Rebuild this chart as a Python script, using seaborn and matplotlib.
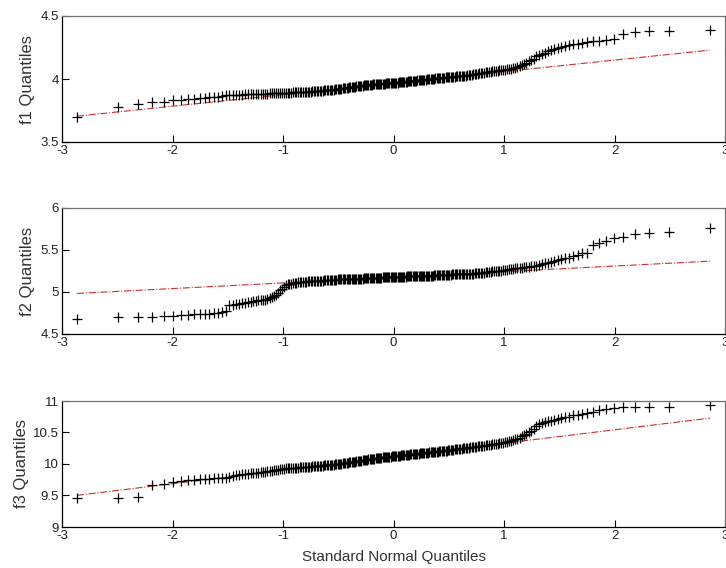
import matplotlib
matplotlib.use('Agg')
import numpy as np
import pandas as pd
import matplotlib.pyplot as plt
import seaborn as sns
from statistics import NormalDist

# sorted sample values (240 per variable)
f1 = [3.70, 3.78, 3.80, 3.82, 3.82, 3.83, 3.835, 3.84, 3.845, 3.85,
      3.85, 3.855, 3.86, 3.86, 3.865, 3.87, 3.87, 3.872, 3.874, 3.875,
      3.876, 3.877, 3.878, 3.879, 3.88, 3.88, 3.881, 3.882, 3.883, 3.883,
      3.884, 3.885, 3.885, 3.886, 3.886, 3.887, 3.888, 3.889, 3.89, 3.89,
      3.891, 3.892, 3.892, 3.893, 3.894, 3.895, 3.895, 3.896, 3.897, 3.898,
      3.898, 3.899, 3.90, 3.90, 3.90, 3.901, 3.902, 3.903, 3.904, 3.905,
      3.906, 3.907, 3.908, 3.909, 3.91, 3.911, 3.912, 3.913, 3.914, 3.915,
      3.916, 3.917, 3.918, 3.92, 3.921, 3.922, 3.924, 3.925, 3.927, 3.928,
      3.93, 3.931, 3.933, 3.934, 3.936, 3.937, 3.939, 3.94, 3.942, 3.943,
      3.945, 3.946, 3.947, 3.948, 3.949, 3.95, 3.951, 3.952, 3.953, 3.954,
      3.955, 3.956, 3.957, 3.958, 3.959, 3.96, 3.961, 3.961, 3.962, 3.963,
      3.963, 3.964, 3.964, 3.965, 3.965, 3.966, 3.966, 3.967, 3.967, 3.968,
      3.969, 3.97, 3.971, 3.972, 3.973, 3.974, 3.975, 3.976, 3.977, 3.978,
      3.979, 3.98, 3.981, 3.982, 3.983, 3.984, 3.985, 3.986, 3.987, 3.988,
      3.989, 3.99, 3.991, 3.992, 3.993, 3.994, 3.995, 3.996, 3.997, 3.998,
      3.999, 4.00, 4.001, 4.002, 4.003, 4.004, 4.005, 4.006, 4.007, 4.008,
      4.009, 4.01, 4.011, 4.012, 4.013, 4.014, 4.015, 4.016, 4.017, 4.018,
      4.019, 4.02, 4.021, 4.022, 4.023, 4.024, 4.025, 4.026, 4.027, 4.028,
      4.03, 4.032, 4.034, 4.036, 4.038, 4.04, 4.042, 4.044, 4.046, 4.048,
      4.05, 4.052, 4.054, 4.056, 4.058, 4.06, 4.062, 4.064, 4.066, 4.068,
      4.07, 4.072, 4.075, 4.078, 4.08, 4.083, 4.087, 4.09, 4.095, 4.10,
      4.11, 4.12, 4.13, 4.14, 4.15, 4.16, 4.18, 4.19, 4.20, 4.21,
      4.22, 4.23, 4.24, 4.25, 4.255, 4.26, 4.27, 4.275, 4.28, 4.285,
      4.29, 4.30, 4.305, 4.31, 4.32, 4.36, 4.37, 4.38, 4.38, 4.39]

f2 = [4.68, 4.70, 4.70, 4.70, 4.71, 4.72, 4.73, 4.73, 4.74, 4.74,
      4.74, 4.74, 4.75, 4.75, 4.76, 4.77, 4.84, 4.85, 4.86, 4.86,
      4.87, 4.87, 4.88, 4.88, 4.89, 4.89, 4.90, 4.90, 4.91, 4.91,
      4.92, 4.93, 4.94, 4.95, 4.97, 4.99, 5.02, 5.04, 5.06, 5.08,
      5.09, 5.10, 5.10, 5.11, 5.11, 5.11, 5.12, 5.12, 5.12, 5.12,
      5.12, 5.12, 5.13, 5.13, 5.13, 5.13, 5.13, 5.13, 5.13, 5.13,
      5.13, 5.135, 5.135, 5.14, 5.14, 5.14, 5.14, 5.14, 5.14, 5.145,
      5.145, 5.145, 5.145, 5.15, 5.15, 5.15, 5.15, 5.15, 5.15, 5.15,
      5.15, 5.155, 5.155, 5.155, 5.155, 5.155, 5.16, 5.16, 5.16, 5.16,
      5.16, 5.16, 5.16, 5.16, 5.165, 5.165, 5.165, 5.165, 5.165, 5.165,
      5.165, 5.17, 5.17, 5.17, 5.17, 5.17, 5.17, 5.17, 5.17, 5.17,
      5.175, 5.175, 5.175, 5.175, 5.175, 5.175, 5.175, 5.175, 5.175, 5.175,
      5.175, 5.175, 5.18, 5.18, 5.18, 5.18, 5.18, 5.18, 5.18, 5.18,
      5.18, 5.185, 5.185, 5.185, 5.185, 5.185, 5.185, 5.185, 5.19, 5.19,
      5.19, 5.19, 5.19, 5.19, 5.19, 5.19, 5.195, 5.195, 5.195, 5.195,
      5.195, 5.195, 5.195, 5.195, 5.20, 5.20, 5.20, 5.20, 5.20, 5.20,
      5.20, 5.20, 5.20, 5.205, 5.205, 5.205, 5.205, 5.205, 5.21, 5.21,
      5.21, 5.21, 5.21, 5.21, 5.215, 5.215, 5.215, 5.22, 5.22, 5.22,
      5.22, 5.22, 5.22, 5.22, 5.225, 5.225, 5.225, 5.225, 5.23, 5.23,
      5.23, 5.235, 5.235, 5.24, 5.24, 5.245, 5.245, 5.25, 5.25, 5.255,
      5.255, 5.26, 5.26, 5.265, 5.27, 5.27, 5.275, 5.28, 5.285, 5.29,
      5.29, 5.295, 5.30, 5.30, 5.305, 5.31, 5.315, 5.32, 5.33, 5.34,
      5.35, 5.36, 5.37, 5.38, 5.39, 5.40, 5.41, 5.43, 5.44, 5.46,
      5.47, 5.56, 5.58, 5.61, 5.64, 5.65, 5.69, 5.70, 5.71, 5.76]

f3 = [9.455, 9.455, 9.48, 9.67, 9.68, 9.72, 9.73, 9.74, 9.75, 9.76,
      9.76, 9.765, 9.77, 9.77, 9.775, 9.78, 9.80, 9.81, 9.82, 9.83,
      9.835, 9.84, 9.845, 9.85, 9.855, 9.86, 9.865, 9.87, 9.875, 9.88,
      9.885, 9.89, 9.895, 9.90, 9.905, 9.91, 9.915, 9.92, 9.925, 9.93,
      9.932, 9.934, 9.936, 9.938, 9.94, 9.942, 9.944, 9.946, 9.948, 9.95,
      9.952, 9.954, 9.956, 9.958, 9.96, 9.962, 9.964, 9.966, 9.968, 9.97,
      9.972, 9.974, 9.976, 9.978, 9.98, 9.982, 9.984, 9.986, 9.988, 9.99,
      9.992, 9.994, 9.996, 9.998, 10.0, 10.003, 10.006, 10.009, 10.012, 10.015,
      10.018, 10.021, 10.024, 10.027, 10.03, 10.033, 10.036, 10.039, 10.042, 10.045,
      10.048, 10.051, 10.054, 10.057, 10.06, 10.063, 10.066, 10.069, 10.072, 10.075,
      10.078, 10.081, 10.084, 10.087, 10.09, 10.093, 10.096, 10.099, 10.10, 10.102,
      10.104, 10.106, 10.108, 10.11, 10.112, 10.114, 10.116, 10.118, 10.12, 10.122,
      10.124, 10.126, 10.128, 10.13, 10.132, 10.134, 10.136, 10.138, 10.14, 10.142,
      10.144, 10.146, 10.148, 10.15, 10.152, 10.154, 10.156, 10.158, 10.16, 10.162,
      10.164, 10.166, 10.168, 10.17, 10.172, 10.174, 10.176, 10.178, 10.18, 10.182,
      10.184, 10.186, 10.188, 10.19, 10.192, 10.194, 10.196, 10.198, 10.20, 10.202,
      10.204, 10.206, 10.208, 10.21, 10.213, 10.216, 10.219, 10.222, 10.225, 10.228,
      10.231, 10.234, 10.237, 10.24, 10.243, 10.246, 10.249, 10.252, 10.255, 10.258,
      10.261, 10.264, 10.267, 10.27, 10.273, 10.276, 10.279, 10.282, 10.285, 10.288,
      10.292, 10.296, 10.30, 10.304, 10.308, 10.312, 10.316, 10.32, 10.325, 10.33,
      10.335, 10.34, 10.345, 10.35, 10.36, 10.37, 10.38, 10.39, 10.40, 10.42,
      10.44, 10.46, 10.48, 10.50, 10.52, 10.56, 10.60, 10.63, 10.65, 10.66,
      10.68, 10.69, 10.70, 10.72, 10.73, 10.74, 10.75, 10.77, 10.78, 10.80,
      10.81, 10.83, 10.85, 10.87, 10.89, 10.91, 10.91, 10.91, 10.91, 10.94]

samples = [f1, f2, f3]
ylabels = ['f1 Quantiles', 'f2 Quantiles', 'f3 Quantiles']
ylims = [(3.5, 4.5), (4.5, 6), (9, 11)]
yticks = [[3.5, 4, 4.5], [4.5, 5, 5.5, 6], [9, 9.5, 10, 10.5, 11]]
xticks = [-3, -2, -1, 0, 1, 2, 3]
xlabel = 'Standard Normal Quantiles'

sns.set_theme(style='white')
plt.rcParams['font.family'] = ['Liberation Sans', 'DejaVu Sans']

fig = plt.figure(figsize=(7.26, 5.68), dpi=100)
W, H = 726, 568
left, right = 62, 725
tops = [16, 208, 401]
hgt = 126
label_x = [-0.04, -0.04, -0.05]

nd = NormalDist()
for k in range(3):
    vals = np.sort(np.array(samples[k]))
    n = len(vals)
    # theoretical normal quantiles at plotting positions (i-0.5)/n
    xq = np.array([nd.inv_cdf((i - 0.5) / n) for i in range(1, n + 1)])
    df = pd.DataFrame({'x': xq, 'y': vals})

    ax = fig.add_axes([left / W, 1 - (tops[k] + hgt) / H, (right - left) / W, hgt / H])

    # reference line through first and third quartiles
    qx1, qx3 = np.percentile(xq, [25, 75])
    qy1, qy3 = np.percentile(vals, [25, 75])
    slope = (qy3 - qy1) / (qx3 - qx1)
    ends = np.array([xq[0], xq[-1]])
    line_df = pd.DataFrame({'x': ends, 'y': qy1 + slope * (ends - qx1)})
    mid_df = pd.DataFrame({'x': [qx1, qx3], 'y': [qy1, qy3]})
    sns.lineplot(data=line_df, x='x', y='y', ax=ax, color='#c83030',
                 linestyle='-.', linewidth=0.8, zorder=1)
    sns.lineplot(data=mid_df, x='x', y='y', ax=ax, color='#c83030',
                 linewidth=0.8, zorder=1)

    sns.scatterplot(data=df, x='x', y='y', ax=ax, marker='+', color='black',
                    s=45, linewidth=0.9, zorder=2)

    ax.set_xlim(-3, 3)
    ax.set_ylim(*ylims[k])
    ax.set_xticks(xticks)
    ax.set_xticklabels([f'{t:g}' for t in xticks])
    ax.set_yticks(yticks[k])
    ax.set_yticklabels([f'{t:g}' for t in yticks[k]])
    ax.tick_params(direction='in', length=5, width=0.8, color='black',
                   labelsize=9.5, pad=2, labelcolor='#222222',
                   bottom=True, left=True, top=False, right=False)
    for side in ['left', 'bottom']:
        ax.spines[side].set_color('black')
        ax.spines[side].set_linewidth(0.9)
    for side in ['top', 'right']:
        ax.spines[side].set_color('#707070')
        ax.spines[side].set_linewidth(0.9)

    ax.set_ylabel(ylabels[k], fontsize=12, color='#333333')
    ax.yaxis.set_label_coords(label_x[k], 0.5)
    if k == 2:
        ax.set_xlabel(xlabel, fontsize=11, color='#333333', labelpad=6)
    else:
        ax.set_xlabel('')

fig.savefig('out.png', dpi=100, facecolor='white')
